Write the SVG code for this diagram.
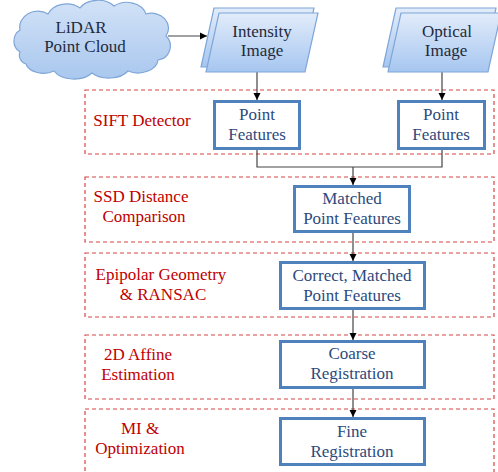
<svg xmlns="http://www.w3.org/2000/svg" width="498" height="472" viewBox="0 0 498 472">
<defs>
<linearGradient id="gb" x1="0" y1="0" x2="0" y2="1">
<stop offset="0" stop-color="#e2ecfa"/>
<stop offset="1" stop-color="#a6c6f0"/>
</linearGradient>
<linearGradient id="gc" x1="0" y1="0" x2="0" y2="1">
<stop offset="0" stop-color="#d2e2f7"/>
<stop offset="1" stop-color="#a9c7ee"/>
</linearGradient>
<marker id="ah" markerWidth="8" markerHeight="8" refX="7" refY="4" orient="auto" markerUnits="userSpaceOnUse">
<path d="M0,0.5 L7,4 L0,7.5 Z" fill="#000"/>
</marker>
<style>
.tb{fill:#1e2a3c}
.tn{fill:#2c4a7c}
.tr{fill:#c00000}
.stage{fill:none;stroke:#d94545;stroke-width:1.2;stroke-dasharray:4 3}
.box{fill:#fff;stroke:#4f81bd;stroke-width:3}
.para{fill:url(#gb);stroke:#7ea6d8;stroke-width:1.2}
.ln{fill:none;stroke:#444;stroke-width:1.2}
</style>
</defs>

<g id="stages">
<rect class="stage" x="85" y="90" width="409" height="64"/>
<rect class="stage" x="85" y="177" width="409" height="65"/>
<rect class="stage" x="85" y="253" width="409" height="64"/>
<rect class="stage" x="85" y="335" width="409" height="64"/>
<rect class="stage" x="85" y="409" width="409" height="70"/>
</g>

<g id="connectors">
<line class="ln" x1="168" y1="36" x2="207" y2="36" marker-end="url(#ah)"/>
<line class="ln" x1="257" y1="72" x2="257" y2="100" marker-end="url(#ah)"/>
<line class="ln" x1="442" y1="72" x2="442" y2="100" marker-end="url(#ah)"/>
<polyline class="ln" points="257,150 257,167 442,167 442,150"/>
<line class="ln" x1="353" y1="167" x2="353" y2="185" marker-end="url(#ah)"/>
<line class="ln" x1="353" y1="233" x2="353" y2="261" marker-end="url(#ah)"/>
<line class="ln" x1="353" y1="310" x2="353" y2="340" marker-end="url(#ah)"/>
<line class="ln" x1="353" y1="389" x2="353" y2="417" marker-end="url(#ah)"/>
</g>

<g font-family="Liberation Serif, Times New Roman, serif" font-size="17" text-anchor="middle">
<g id="lidar">
<path d="M20,52 A13,13 0 0 1 20,30 A18,16 0 0 1 48,14 A20,16 0 0 1 80,8 A20,14 0 0 1 114,6 A20,16 0 0 1 146,14 A17,15 0 0 1 166,36 A14,14 0 0 1 158,60 A20,14 0 0 1 128,71 A22,14 0 0 1 92,73 A22,14 0 0 1 54,71 A18,12 0 0 1 26,64 A9,9 0 0 1 20,52 Z" fill="url(#gc)" stroke="#7ea6d8" stroke-width="1.2"/>
<text class="tb" x="81" y="33">LiDAR</text>
<text class="tb" x="85" y="52">Point Cloud</text>
</g>

<g id="intensity">
<polygon class="para" points="214,8 314,8 301,67 201,67"/>
<polygon class="para" points="219,13 318,13 305,72 206,72"/>
<text class="tb" x="262" y="37">Intensity</text>
<text class="tb" x="262" y="56">Image</text>
</g>

<g id="optical">
<polygon class="para" points="396,8 496,8 483,67 383,67"/>
<polygon class="para" points="401,13 501,13 488,72 388,72"/>
<text class="tb" x="447" y="37">Optical</text>
<text class="tb" x="446" y="56">Image</text>
</g>

<g id="sift">
<text class="tr" x="142" y="126">SIFT Detector</text>
</g>
<g id="pf1">
<rect class="box" x="214.5" y="101.5" width="85" height="47"/>
<text class="tn" x="257" y="120">Point</text>
<text class="tn" x="257" y="140">Features</text>
</g>
<g id="pf2">
<rect class="box" x="398.5" y="101.5" width="86" height="47"/>
<text class="tn" x="441" y="120">Point</text>
<text class="tn" x="441" y="140">Features</text>
</g>

<g id="ssd">
<text class="tr" x="141" y="202">SSD Distance</text>
<text class="tr" x="144" y="222">Comparison</text>
</g>
<g id="matched">
<rect class="box" x="294.5" y="186.5" width="115" height="45"/>
<text class="tn" x="352" y="204">Matched</text>
<text class="tn" x="352" y="224">Point Features</text>
</g>

<g id="epipolar">
<text class="tr" x="161" y="280">Epipolar Geometry</text>
<text class="tr" x="163" y="300">&amp; RANSAC</text>
</g>
<g id="correct">
<rect class="box" x="280.5" y="262.5" width="144" height="46"/>
<text class="tn" x="352" y="281">Correct, Matched</text>
<text class="tn" x="352" y="301">Point Features</text>
</g>

<g id="affine">
<text class="tr" x="138" y="360">2D Affine</text>
<text class="tr" x="138" y="380">Estimation</text>
</g>
<g id="coarse">
<rect class="box" x="280.5" y="341.5" width="144" height="46"/>
<text class="tn" x="352" y="359">Coarse</text>
<text class="tn" x="352" y="379">Registration</text>
</g>

<g id="mi">
<text class="tr" x="140" y="434">MI &amp;</text>
<text class="tr" x="140" y="454">Optimization</text>
</g>
<g id="fine">
<rect class="box" x="280.5" y="418.5" width="144" height="46"/>
<text class="tn" x="352" y="437">Fine</text>
<text class="tn" x="352" y="457">Registration</text>
</g>
</g>
</svg>
